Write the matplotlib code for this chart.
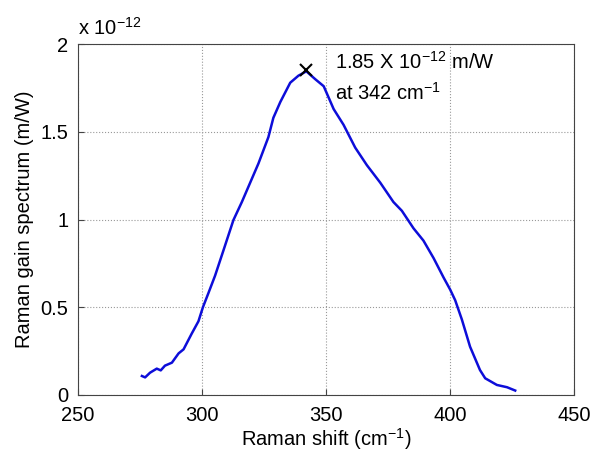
import numpy as np
import matplotlib
matplotlib.use("Agg")
import matplotlib.pyplot as plt

plt.rcParams['font.family'] = ['Liberation Sans', 'DejaVu Sans']
plt.rcParams['mathtext.fontset'] = 'custom'
plt.rcParams['mathtext.rm'] = 'Liberation Sans'

# Raman shift (cm^-1) and gain (units of 1e-12 m/W)
shift = [275.7, 277.0, 279.0, 281.7, 283.3, 285.0, 287.8, 290.5, 292.5, 295.8,
         298.5, 300.3, 302.5, 305.2, 308.6, 312.6, 316.0, 322.7, 326.7, 328.7,
         331.5, 335.5, 338.8, 342.0, 345.6, 349.0, 353.0, 357.0, 361.7, 366.4,
         371.8, 377.1, 380.5, 385.2, 389.2, 393.3, 397.3, 400.0, 402.0, 404.7,
         408.0, 412.0, 414.1, 418.8, 422.9, 426.2]
gain = [0.108, 0.100, 0.127, 0.150, 0.140, 0.167, 0.184, 0.237, 0.260, 0.350,
        0.420, 0.500, 0.580, 0.680, 0.825, 0.997, 1.100, 1.320, 1.470, 1.580,
        1.670, 1.780, 1.820, 1.845, 1.800, 1.760, 1.630, 1.540, 1.410, 1.310,
        1.210, 1.100, 1.050, 0.950, 0.880, 0.780, 0.670, 0.600, 0.540, 0.430,
        0.275, 0.142, 0.095, 0.057, 0.044, 0.025]

peak_shift = 342
peak_gain = 1.85

xticks = [250, 300, 350, 400, 450]
yticks = [0, 0.5, 1, 1.5, 2]
ytick_labels = ["0", "0.5", "1", "1.5", "2"]

fs = 14.5

fig = plt.figure(figsize=(5.92, 4.55), dpi=100)
ax = fig.add_axes([0.132, 0.132, 0.838, 0.771])

ax.plot(shift, gain, color=(0.05, 0.05, 0.85), linewidth=1.8)
ax.plot(peak_shift, peak_gain, 'x', color='black', markersize=9, markeredgewidth=1.5)

ax.text(353.5, 1.90, r"1.85 X 10$^{-12}$ m/W", fontsize=fs, va='center')
ax.text(353.5, 1.72, r"at 342 cm$^{-1}$", fontsize=fs, va='center')

ax.set_xlim(250, 450)
ax.set_ylim(0, 2)
ax.set_xticks(xticks)
ax.set_yticks(yticks)
ax.set_yticklabels(ytick_labels)
ax.tick_params(direction='in', labelsize=fs, length=4, color='#444444')
ax.tick_params(axis='x', pad=8)
ax.tick_params(axis='y', pad=7)
ax.grid(True, linestyle=':', color='#999999', linewidth=0.8)
for s in ax.spines.values():
    s.set_color('#444444')

ax.set_xlabel(r"Raman shift (cm$^{-1}$)", fontsize=fs, labelpad=1)
ax.set_ylabel("Raman gain spectrum (m/W)", fontsize=fs, labelpad=5)
ax.text(0.0, 1.015, r"x 10$^{-12}$", transform=ax.transAxes, fontsize=fs, va='bottom')

fig.savefig("out.png", dpi=100)
